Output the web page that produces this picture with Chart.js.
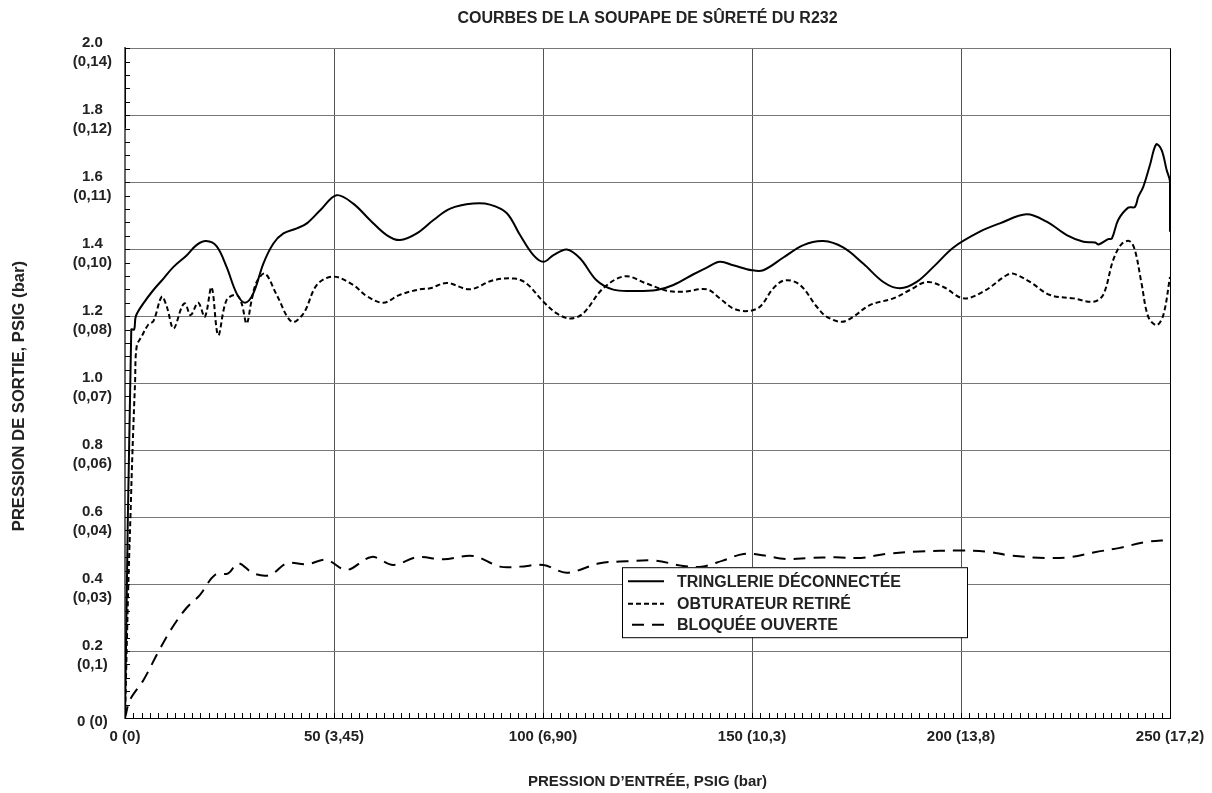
<!DOCTYPE html>
<html>
<head>
<meta charset="utf-8">
<title>Courbes de la soupape de sûreté du R232</title>
<script src="https://cdn.jsdelivr.net/npm/chart.js@4.4.1/dist/chart.umd.min.js"></script>
<style>
  body { margin: 0; background: #fff; }
  #wrap { width: 1212px; height: 793px; }
</style>
</head>
<body>
<div id="wrap"><canvas id="graf" width="1212" height="793"></canvas></div>
<script>
// valeurs (pression d'entrée PSIG -> pression de sortie PSIG)
const tringlerieX = [0, 0, 0, 0, 1.5, 2.2, 2.6, 4.4, 6.8, 9.2, 11.6, 14.8, 17.1, 19.4, 21.9, 24.3, 26.7, 28.7, 30.7, 33.1,
    35.5, 37.9, 41.1, 43.5, 46.7, 50.6, 54.6, 58.6, 62.6, 65.8, 69.8, 73.8, 77.8, 83.3, 87.3, 91.3, 94.5, 97.7, 100.1, 102.5,
    105.7, 108.9, 112.8, 116.8, 121.6, 127.2, 131.2, 136.0, 139.2, 142.3, 145.5, 150.0, 152.7, 157.5, 162.3, 167.1, 171.8,
    176.6, 181.4, 185.4, 189.4, 193.4, 198.2, 204.5, 209.3, 215.7, 220.5, 225.3, 229.3, 232.1, 232.9, 235.2, 236.1, 237.6,
    240.0, 241.6, 242.4, 243.6, 245.2, 246.7, 248.0, 249.2, 250, 250];
const tringlerieY = [2.0, 1.76, null, 0, 1.16, 1.16, 1.2, 1.238, 1.278, 1.312, 1.347, 1.382, 1.412, 1.424, 1.409, 1.347, 1.268, 1.24, 1.268, 1.357,
    1.417, 1.447, 1.462, 1.477, 1.516, 1.561, 1.536, 1.487, 1.442, 1.427, 1.447, 1.487, 1.521, 1.536, 1.533, 1.508, 1.442, 1.382, 1.362, 1.382,
    1.399, 1.372, 1.307, 1.279, 1.275, 1.278, 1.293, 1.325, 1.345, 1.362, 1.352, 1.337, 1.337, 1.375, 1.412, 1.424, 1.405,
    1.357, 1.302, 1.283, 1.302, 1.347, 1.405, 1.452, 1.477, 1.504, 1.482, 1.442, 1.422, 1.42, 1.414, 1.43, 1.432, 1.487,
    1.524, 1.526, 1.556, 1.586, 1.651, 1.713, 1.696, 1.636, 1.601, 1.452];

const obturateurX = [0, 0.8, 1.3, 1.8, 2.4, 2.8, 4.0, 5.6, 6.8, 8.8, 10.0, 11.6, 13.6, 14.4, 15.7, 17.5, 19.1, 20.7, 22.3, 24.3,
    26.7, 27.9, 29.1, 30.3, 31.5, 33.5, 36.3, 39.9, 42.7, 45.9, 49.8, 54.6, 57.8, 61.8, 65.8, 70.6, 73.0, 77.0, 82.5, 88.1,
    93.3, 96.1, 100.1, 103.3, 106.5, 109.6, 114.4, 119.6, 124.8, 129.6, 133.6, 139.2, 142.3, 145.5, 148.9, 151.9, 155.1,
    157.9, 161.5, 165.5, 167.9, 171.5, 174.2, 178.2, 183.8, 187.8, 191.8, 195.8, 200.6, 205.3, 210.9, 212.5, 216.5, 221.3,
    226.9, 231.6, 234.0, 236.4, 238.4, 240.3, 241.6, 243.2, 244.8, 246.8, 248.4, 250];
const obturateurY = [0, 0.4, 0.6, 0.8, 1.0, 1.11, 1.14, 1.175, 1.185, 1.258, 1.228, 1.163, 1.228, 1.238, 1.203, 1.24, 1.198, 1.286, 1.143, 1.248,
    1.263, 1.238, 1.178, 1.248, 1.302, 1.327, 1.263, 1.183, 1.208, 1.293, 1.318, 1.293, 1.26, 1.24, 1.264, 1.28, 1.283, 1.299, 1.28, 1.307,
    1.312, 1.297, 1.243, 1.208, 1.193, 1.208, 1.283, 1.319, 1.297, 1.276, 1.273, 1.28, 1.253, 1.223, 1.215, 1.228, 1.283,
    1.307, 1.293, 1.228, 1.198, 1.183, 1.198, 1.233, 1.253, 1.278, 1.302, 1.287, 1.253, 1.273, 1.322, 1.327, 1.302, 1.263,
    1.253, 1.243, 1.263, 1.367, 1.415, 1.424, 1.397, 1.297, 1.198, 1.173, 1.203, 1.317];

const bloqueeX = [0, 1.2, 4.4, 8.0, 11.2, 14.8, 17.9, 21.5, 24.7, 27.1, 30.7, 34.7, 38.7, 43.5, 48.2, 53.0, 59.0, 64.2, 69.8, 76.2,
    83.3, 89.7, 94.5, 100.1, 105.7, 113.6, 120, 127, 133, 138, 143, 148, 153, 158, 164, 170, 176, 182, 190, 200,
    206, 212, 220, 226, 232, 238, 244, 250];
const bloqueeY = [0, 0.054, 0.113, 0.198, 0.268, 0.33, 0.367, 0.427, 0.432, 0.462, 0.432, 0.427, 0.462, 0.459, 0.472, 0.442, 0.481, 0.457, 0.48, 0.474,
    0.484, 0.452, 0.452, 0.457, 0.434, 0.462, 0.468, 0.47, 0.455, 0.452, 0.47, 0.49, 0.485, 0.475, 0.478, 0.48, 0.478, 0.49, 0.497, 0.5,
    0.497, 0.485, 0.478, 0.48, 0.495, 0.508, 0.525, 0.532];

const xTickLabels = ['0 (0)', '50 (3,45)', '100 (6,90)', '150 (10,3)', '200 (13,8)', '250 (17,2)'];
const yTickLabels = ['0 (0)', ['0.2', '(0,1)'], ['0.4', '(0,03)'], ['0.6', '(0,04)'], ['0.8', '(0,06)'], ['1.0', '(0,07)'],
    ['1.2', '(0,08)'], ['1.4', '(0,10)'], ['1.6', '(0,11)'], ['1.8', '(0,12)'], ['2.0', '(0,14)']];
const yTitle = 'PRESSION DE SORTIE, PSIG (bar)';

function pts(xs, ys) {
    return xs.map((x, i) => ({ x: x, y: ys[i] }));
}

Chart.defaults.font.family = "'Liberation Sans', Arial, Helvetica, sans-serif";
Chart.defaults.font.weight = 'bold';
Chart.defaults.font.size = 15;
Chart.defaults.color = '#222';

// petites graduations sur les axes
const minorTicks = {
    id: 'minorTicks',
    afterDraw(chart) {
        const { ctx, chartArea, scales } = chart;
        ctx.save();
        ctx.strokeStyle = '#000';
        ctx.lineWidth = 1;
        ctx.beginPath();
        for (let v = 0; v <= 250; v += 2) {
            const px = Math.round(scales.x.getPixelForValue(v)) + 0.5;
            ctx.moveTo(px, chartArea.bottom);
            ctx.lineTo(px, chartArea.bottom - 5);
        }
        for (let i = 0; i <= 50; i++) {
            const py = Math.round(scales.y.getPixelForValue(i * 0.04)) + 0.5;
            ctx.moveTo(chartArea.left, py);
            ctx.lineTo(chartArea.left + 5, py);
        }
        ctx.stroke();
        ctx.restore();
    }
};

// titre vertical (un peu plus bas que le centre du graphique)
const yAxisTitle = {
    id: 'yAxisTitle',
    afterDraw(chart) {
        const { ctx, chartArea } = chart;
        ctx.save();
        ctx.translate(19, (chartArea.top + chartArea.bottom) / 2 + 13);
        ctx.rotate(-Math.PI / 2);
        ctx.font = "bold 16.6px 'Liberation Sans', Arial, sans-serif";
        ctx.fillStyle = '#222';
        ctx.textAlign = 'center';
        ctx.textBaseline = 'middle';
        ctx.fillText(yTitle, 0, 0);
        ctx.restore();
    }
};

// légende encadrée dans la zone du graphique
const boxLegend = {
    id: 'boxLegend',
    afterDraw(chart) {
        const { ctx, chartArea } = chart;
        const left = chartArea.left + 497, top = chartArea.top + 519;
        const w = 345, h = 70;
        ctx.save();
        ctx.fillStyle = '#fff';
        ctx.fillRect(left, top, w, h);
        ctx.strokeStyle = '#000';
        ctx.lineWidth = 1;
        ctx.strokeRect(left + 0.5, top + 0.5, w, h);
        ctx.font = "bold 16px 'Liberation Sans', Arial, sans-serif";
        ctx.textBaseline = 'middle';
        ctx.fillStyle = '#222';
        const rows = [14, 36.5, 57.5];
        chart.data.datasets.forEach((ds, i) => {
            const y = top + rows[i];
            ctx.beginPath();
            ctx.setLineDash(ds.borderDash || []);
            ctx.lineWidth = 2;
            ctx.strokeStyle = '#000';
            ctx.moveTo(left + (i == 2 ? 10 : 6), y);
            ctx.lineTo(left + 42, y);
            ctx.stroke();
            ctx.setLineDash([]);
            ctx.fillText(ds.label, left + 55, y + 1);
        });
        ctx.restore();
    }
};

new Chart(document.getElementById('graf'), {
    type: 'line',
    data: {
        datasets: [{
            label: 'TRINGLERIE DÉCONNECTÉE',
            data: pts(tringlerieX, tringlerieY),
            borderColor: '#000',
            borderWidth: 2,
            borderDash: []
        }, {
            label: 'OBTURATEUR RETIRÉ',
            data: pts(obturateurX, obturateurY),
            borderColor: '#000',
            borderWidth: 2,
            borderDash: [5, 3]
        }, {
            label: 'BLOQUÉE OUVERTE',
            data: pts(bloqueeX, bloqueeY),
            borderColor: '#000',
            borderWidth: 2,
            borderDash: [12, 8]
        }]
    },
    options: {
        responsive: false,
        animation: false,
        devicePixelRatio: 1,
        elements: {
            point: { radius: 0 },
            line: { tension: 0.35, fill: false }
        },
        layout: { padding: { top: 0, right: 42, bottom: 0, left: 0 } },
        plugins: {
            legend: { display: false },
            tooltip: { enabled: false },
            title: {
                display: true,
                text: 'COURBES DE LA SOUPAPE DE SÛRETÉ DU R232',
                fullSize: false,
                color: '#222',
                font: { size: 16, weight: 'bold' },
                padding: { top: 9, bottom: 20 }
            }
        },
        scales: {
            x: {
                type: 'linear',
                min: 0,
                max: 250,
                afterFit: function (s) {
                    s.height = 75;
                    s.paddingLeft = 0;
                    s.paddingRight = 0;
                },
                ticks: {
                    stepSize: 50,
                    padding: 10,
                    maxRotation: 0,
                    callback: function (v, i) { return xTickLabels[i]; }
                },
                grid: {
                    drawTicks: false,
                    lineWidth: 1,
                    color: function (c) { return c.tick && c.tick.value === 250 ? '#000' : '#555'; }
                },
                border: { color: '#000', width: 1 },
                title: {
                    display: true,
                    text: 'PRESSION D’ENTRÉE, PSIG (bar)',
                    padding: { top: 0, bottom: 2 }
                }
            },
            y: {
                min: 0,
                max: 2,
                afterFit: function (s) {
                    s.width = 125;
                    s.paddingTop = 0;
                    s.paddingBottom = 0;
                },
                ticks: {
                    stepSize: 0.2,
                    padding: 13,
                    labelOffset: 4,
                    crossAlign: 'center',
                    font: { size: 15, weight: 'bold', lineHeight: 1.25 },
                    callback: function (v, i) { return yTickLabels[i]; }
                },
                grid: { drawTicks: false, lineWidth: 1, color: '#777' },
                border: { color: '#666', width: 2 }
            }
        }
    },
    plugins: [minorTicks, yAxisTitle, boxLegend]
});
</script>
</body>
</html>
